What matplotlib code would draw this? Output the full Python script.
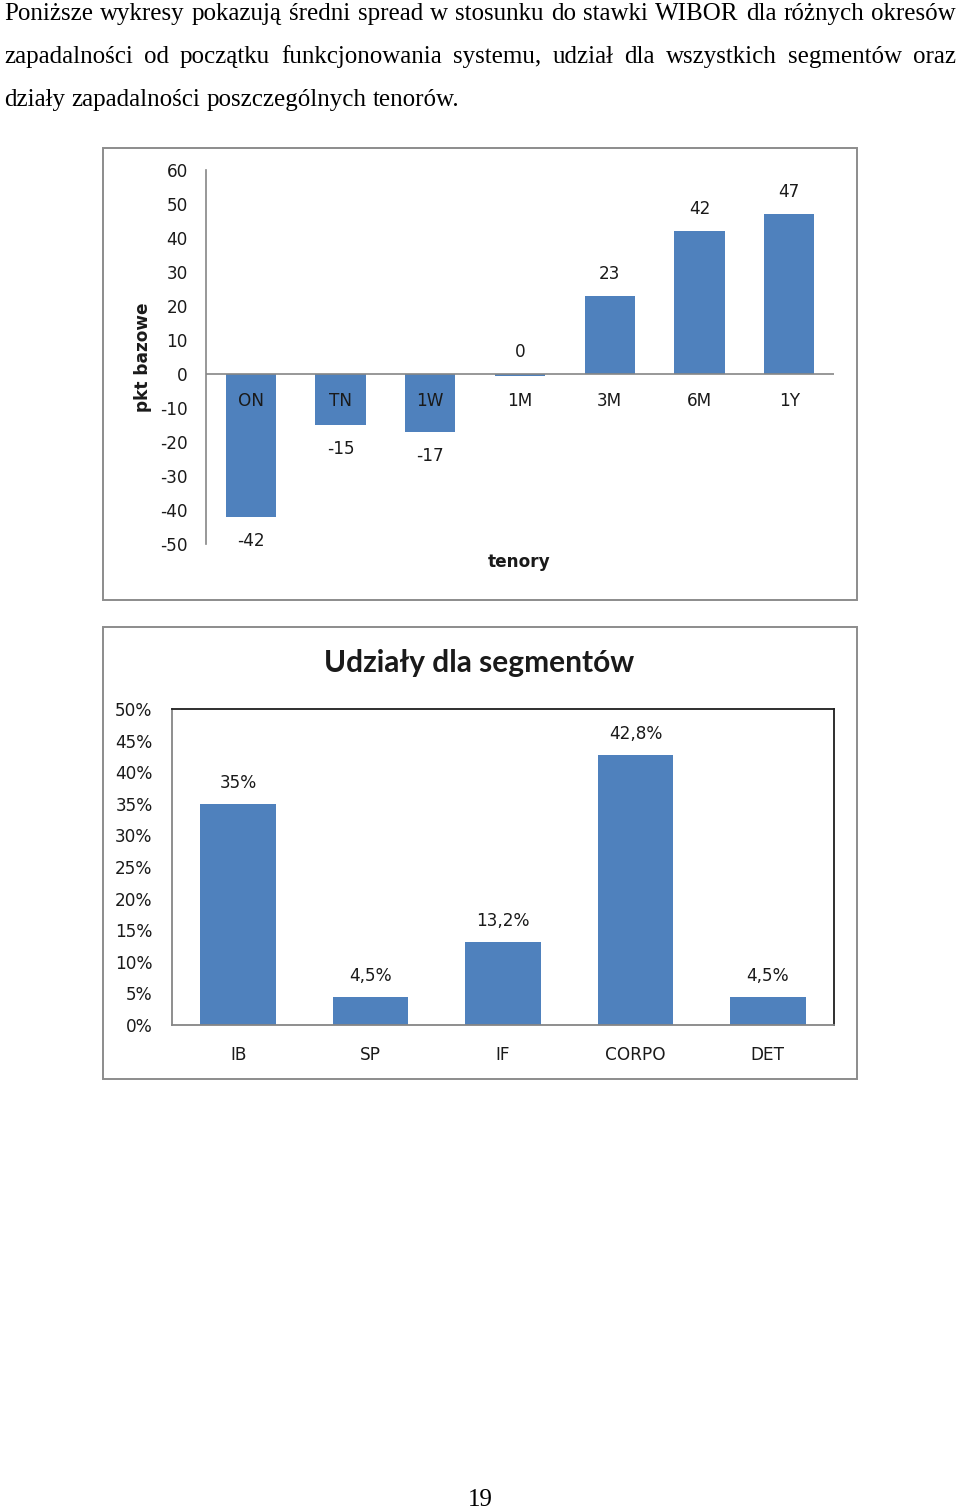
import matplotlib
matplotlib.use("Agg")
import matplotlib.pyplot as plt
from matplotlib.patches import Rectangle

# ---------------- data ----------------
tenors = ["ON", "TN", "1W", "1M", "3M", "6M", "1Y"]
spread_bp = [-42, -15, -17, -0.5, 23, 42, 47]
spread_labels = ["-42", "-15", "-17", "0", "23", "42", "47"]
spread_yticks = [60, 50, 40, 30, 20, 10, 0, -10, -20, -30, -40, -50]

segments = ["IB", "SP", "IF", "CORPO", "DET"]
shares_pct = [35.0, 4.5, 13.2, 42.8, 4.5]
share_labels = ["35%", "4,5%", "13,2%", "42,8%", "4,5%"]
share_yticks = [0, 5, 10, 15, 20, 25, 30, 35, 40, 45, 50]

para_lines = [
    "Poniższe wykresy pokazują średni spread w stosunku do stawki WIBOR dla różnych okresów",
    "zapadalności od początku funkcjonowania systemu, udział dla wszystkich segmentów oraz",
    "działy zapadalności poszczególnych tenorów.",
]
page_number = "19"

# ---------------- styling ----------------
W, H = 960, 1509
BLUE = "#4F81BD"
FRAME = "#8c8c8c"
AXIS = "#868686"
TXT = "#1a1a1a"
TICKFONT = "DejaVu Sans"
TFS = 12.2

fig = plt.figure(figsize=(W / 100, H / 100), dpi=100)
fig.patch.set_facecolor("white")


def fx(px):
    return px / W


def fy(py):
    return 1 - py / H


def ax_rect(l, t, r, b):
    return [fx(l), fy(b), (r - l) / W, (b - t) / H]


# ---------------- paragraph (justified) ----------------
renderer = fig.canvas.get_renderer()
serif = "Liberation Serif"
pfs = 18.0
left_px, right_px = 4, 956
baselines = [20, 63, 106]
for li, line in enumerate(para_lines):
    words = line.split(" ")
    texts = []
    widths = []
    for w in words:
        t = fig.text(0, fy(baselines[li]), w, fontsize=pfs, family=serif,
                     color="black", va="baseline", ha="left")
        bb = t.get_window_extent(renderer=renderer)
        texts.append(t)
        widths.append(bb.width)
    justify = li < len(para_lines) - 1
    if justify:
        gap = (right_px - left_px - sum(widths)) / (len(words) - 1)
    else:
        sp = fig.text(0, 0, "a b", fontsize=pfs, family=serif)
        ab = fig.text(0, 0, "ab", fontsize=pfs, family=serif)
        gap = sp.get_window_extent(renderer).width - ab.get_window_extent(renderer).width
        sp.remove()
        ab.remove()
    x = left_px
    for t, wdt in zip(texts, widths):
        t.set_x(fx(x))
        x += wdt + gap

fig.text(fx(480), fy(1506), page_number, fontsize=pfs, family=serif,
         ha="center", va="baseline", color="black")

# ---------------- frames ----------------
for (l, t, r, b) in [(103, 148, 857, 600), (103, 627, 857, 1079)]:
    fig.patches.append(Rectangle((fx(l), fy(b)), (r - l) / W, (b - t) / H,
                                 transform=fig.transFigure, fill=False,
                                 edgecolor=FRAME, linewidth=1.4))

# ---------------- chart 1 ----------------
ax1 = fig.add_axes(ax_rect(206, 170, 834, 544))
x1 = list(range(len(tenors)))
ax1.bar(x1, spread_bp, width=0.56, color=BLUE, zorder=2)
ax1.set_xlim(-0.5, len(tenors) - 0.5)
ax1.set_ylim(-50, 60)
ax1.axhline(0, color=AXIS, linewidth=1.2, zorder=3)
for s in ["top", "right", "bottom"]:
    ax1.spines[s].set_visible(False)
ax1.spines["left"].set_color(AXIS)
ax1.spines["left"].set_linewidth(1.2)
ax1.set_yticks(spread_yticks)
ax1.set_yticklabels([str(v) for v in spread_yticks], family=TICKFONT,
                    fontsize=TFS, color=TXT)
ax1.tick_params(axis="y", length=0, pad=13)
ax1.set_xticks([])
for i, (name, v, lab) in enumerate(zip(tenors, spread_bp, spread_labels)):
    ax1.text(i, -7.9, name, ha="center", va="center", family=TICKFONT,
             fontsize=TFS, color=TXT, zorder=4)
    if round(v) >= 0:
        ax1.text(i, max(v, 0) + 6.5, lab, ha="center", va="center",
                 family=TICKFONT, fontsize=TFS, color=TXT)
    else:
        ax1.text(i, v - 7.1, lab, ha="center", va="center",
                 family=TICKFONT, fontsize=TFS, color=TXT)
ax1.patch.set_alpha(0)

fig.text(fx(143), fy(357), "pkt bazowe", rotation=90, ha="center", va="center",
         family=TICKFONT, fontsize=TFS, fontweight="bold", color=TXT)
fig.text(fx(519), fy(562), "tenory", ha="center", va="center",
         family=TICKFONT, fontsize=TFS, fontweight="bold", color=TXT)

# ---------------- chart 2 ----------------
ax2 = fig.add_axes(ax_rect(172, 709, 834, 1025))
x2 = list(range(len(segments)))
ax2.bar(x2, shares_pct, width=0.57, color=BLUE, zorder=2)
ax2.set_xlim(-0.5, len(segments) - 0.5)
ax2.set_ylim(0, 50)
ax2.set_yticks(share_yticks)
ax2.set_yticklabels([f"{v}%" for v in share_yticks], family=TICKFONT,
                    fontsize=TFS, color=TXT)
ax2.set_xticks(x2)
ax2.set_xticklabels(segments, family=TICKFONT, fontsize=TFS, color=TXT)
ax2.tick_params(axis="y", length=0, pad=14)
ax2.tick_params(axis="x", length=0, pad=15)
for s in ["top", "right"]:
    ax2.spines[s].set_color("#1f1f1f")
    ax2.spines[s].set_linewidth(1.3)
for s in ["left", "bottom"]:
    ax2.spines[s].set_color(AXIS)
    ax2.spines[s].set_linewidth(1.3)
for i, (v, lab) in enumerate(zip(shares_pct, share_labels)):
    ax2.text(i, v + 3.3, lab, ha="center", va="center", family=TICKFONT,
             fontsize=TFS, color=TXT)

fig.text(fx(479), fy(663), "Udziały dla segmentów", ha="center", va="center",
         family="Lato", fontsize=21.5, fontweight="bold", color=TXT)

fig.savefig("out.png", dpi=100, facecolor="white")
